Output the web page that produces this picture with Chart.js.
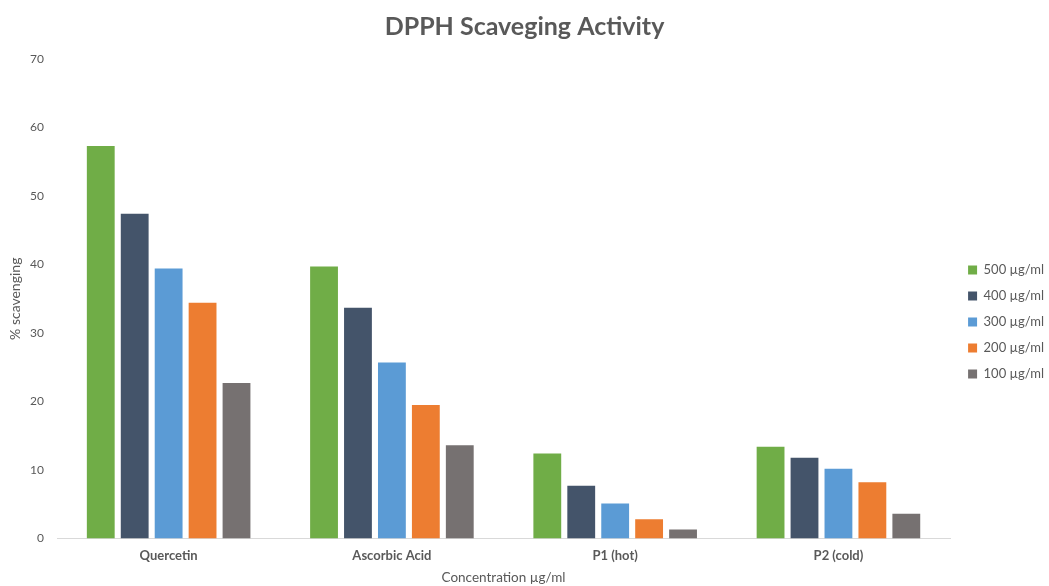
<!DOCTYPE html>
<html>
<head>
<meta charset="utf-8">
<script src="https://cdn.jsdelivr.net/npm/chart.js@4.4.1/dist/chart.umd.min.js"></script>
<style>
  html, body { margin: 0; padding: 0; background: #ffffff; }
  #wrap { width: 1049px; height: 586px; position: relative; }
</style>
</head>
<body>
<div id="wrap"><canvas id="chart"></canvas></div>
<script>
// Samples on the x axis
const categories = ['Quercetin', 'Ascorbic Acid', 'P1 (hot)', 'P2 (cold)'];

// % scavenging at each concentration
const conc500 = [57.3, 39.7, 12.4, 13.4];
const conc400 = [47.4, 33.7, 7.7, 11.8];
const conc300 = [39.4, 25.7, 5.1, 10.2];
const conc200 = [34.4, 19.5, 2.8, 8.2];
const conc100 = [22.7, 13.6, 1.3, 3.6];

const seriesLabels = ['500 µg/ml', '400 µg/ml', '300 µg/ml', '200 µg/ml', '100 µg/ml'];
const seriesColors = ['#70AD47', '#44546A', '#5B9BD5', '#ED7D31', '#767171'];
const seriesValues = [conc500, conc400, conc300, conc200, conc100];

const yTicks = [0, 10, 20, 30, 40, 50, 60, 70];

const FONT = 'Lato, "Open Sans", sans-serif';
const TEXT = '#595959';

// Nudge the legend block a little lower and to the right of its default slot
const legendOffset = {
  id: 'legendOffset',
  afterLayout(chart) {
    const lg = chart.legend;
    if (!lg) return;
    lg.top += 26; lg.bottom += 26;
    lg.left += 5; lg.right += 5;
  }
};

new Chart(document.getElementById('chart'), {
  type: 'bar',
  data: {
    labels: categories,
    datasets: seriesValues.map((vals, i) => ({
      label: seriesLabels[i],
      data: vals,
      backgroundColor: seriesColors[i],
      borderWidth: 0,
      categoryPercentage: 0.76,
      barPercentage: 0.82
    }))
  },
  plugins: [legendOffset],
  options: {
    responsive: true,
    maintainAspectRatio: false,
    animation: false,
    layout: { padding: { left: 0, right: 0, top: 6, bottom: 0 } },
    plugins: {
      title: {
        display: true,
        text: 'DPPH Scaveging Activity',
        color: TEXT,
        font: { family: FONT, size: 25, weight: 'bold' },
        padding: { top: 6, bottom: 17 }
      },
      legend: {
        position: 'right',
        align: 'center',
        labels: {
          color: TEXT,
          font: { family: FONT, size: 13 },
          boxWidth: 9,
          boxHeight: 9,
          padding: 13
        }
      },
      tooltip: { enabled: false }
    },
    scales: {
      x: {
        grid: { display: false, drawTicks: false },
        border: { display: true, color: '#D9D9D9', width: 1 },
        ticks: {
          color: TEXT,
          font: { family: FONT, size: 13, weight: 'bold', lineHeight: 1.1 },
          padding: 10
        },
        title: {
          display: true,
          text: 'Concentration µg/ml',
          color: TEXT,
          font: { family: FONT, size: 13.5 },
          padding: { top: -3, bottom: 0 }
        }
      },
      y: {
        min: 0,
        max: 70,
        afterBuildTicks: (axis) => { axis.ticks = yTicks.map(v => ({ value: v })); },
        afterFit: (axis) => { axis.width = 57; },
        grid: { display: false, drawTicks: false },
        border: { display: false },
        ticks: {
          color: TEXT,
          font: { family: FONT, size: 12 },
          padding: 13
        },
        title: {
          display: true,
          text: '% scavenging',
          color: TEXT,
          font: { family: FONT, size: 14 },
          padding: { top: 7, bottom: 7 }
        }
      }
    }
  }
});
</script>
</body>
</html>
